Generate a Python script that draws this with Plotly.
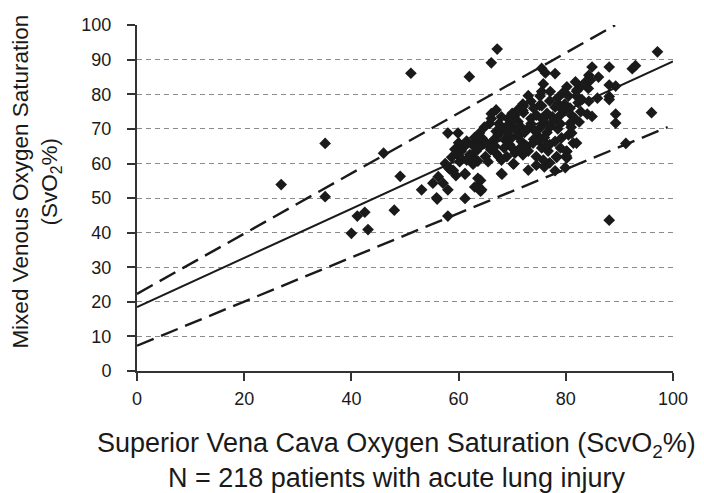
import plotly.graph_objects as go

# ScvO2 (x) and SvO2 (y) values
scvo2 = [26.9, 35.1, 35.1, 40.0, 41.1, 42.5, 43.1, 46.0, 48.0, 49.1,
         51.1, 53.1, 55.2, 56.2, 57.1, 58.0, 55.9, 56.0, 61.2, 58.0,
         61.2, 63.0, 64.1, 64.1, 58.1, 58.4, 59.0, 58.0, 59.9, 63.9,
         67.0, 62.0, 66.1, 67.2, 88.1, 91.2, 96.0, 97.1, 92.4, 93.0,
         88.1, 84.9, 75.5, 78.0, 76.2, 84.3, 86.1, 84.0, 84.6, 84.2,
         88.1, 89.3, 85.9, 88.1, 88.1, 84.3, 84.0, 84.9, 89.3, 89.3,
         75.8, 77.1, 75.5, 73.0, 75.1, 80.2, 81.8, 82.1, 72.1, 72.1,
         82.0, 82.0, 82.3, 77.0, 78.6, 78.0, 79.2, 79.8, 75.5, 75.2,
         72.0, 72.0, 81.1, 81.7, 80.8, 79.9, 78.9, 66.1, 66.1, 65.8,
         69.2, 70.5, 71.1, 69.2, 64.4, 63.8, 70.3, 70.3, 73.0, 76.0,
         78.3, 80.2, 80.2, 78.0, 79.9, 68.1, 67.5, 58.7, 59.3, 60.5,
         62.1, 63.0, 64.0, 65.2, 63.6, 62.7, 63.3, 58.4, 59.0, 61.2,
         63.6, 63.6, 64.3, 68.0, 70.2, 74.5, 77.0, 60.0, 61.0, 61.5,
         62.5, 60.2, 59.8, 65.0, 66.0, 65.5, 66.5, 67.4, 68.6, 69.9,
         71.1, 71.7, 72.7, 73.0, 73.9, 75.5, 76.7, 78.0, 79.2, 80.5,
         80.1, 80.1, 81.4, 82.0, 81.1, 78.3, 68.0, 69.0, 70.0, 70.8,
         71.5, 72.3, 73.0, 73.5, 74.2, 74.8, 75.3, 76.0, 76.5, 77.2,
         77.8, 78.5, 79.0, 68.5, 69.5, 70.5, 71.5, 72.0, 74.0, 75.0,
         76.0, 77.0, 73.5, 74.5, 76.5, 77.5, 75.5, 70.0, 67.5, 66.8,
         67.0, 68.0, 69.0, 74.5, 75.8, 76.5, 79.0, 81.0, 82.5, 82.8,
         83.0, 83.0, 80.5, 79.5, 78.5, 80.8, 74.0, 73.5, 71.0, 70.0,
         68.0, 67.0, 64.8, 63.0, 61.5, 57.5, 59.5, 60.5]
svo2 = [53.9, 65.8, 50.4, 39.8, 44.8, 45.9, 40.9, 63.0, 46.5, 56.3,
        86.1, 52.4, 54.3, 56.2, 54.3, 52.4, 50.1, 49.7, 49.9, 44.8,
        56.9, 53.2, 55.1, 52.0, 58.8, 58.3, 57.9, 68.8, 68.8, 68.8,
        69.3, 85.1, 89.1, 93.1, 43.6, 65.8, 74.7, 92.3, 87.4, 88.3,
        87.9, 87.9, 87.5, 86.0, 86.2, 85.5, 85.0, 84.1, 84.1, 81.7,
        82.7, 82.4, 78.9, 79.4, 78.5, 78.0, 74.3, 73.6, 74.3, 71.7,
        83.0, 80.8, 80.8, 79.6, 76.8, 82.2, 83.6, 81.3, 76.6, 74.7,
        80.9, 79.5, 77.6, 78.1, 77.2, 76.3, 75.8, 77.2, 76.7, 79.5,
        77.2, 75.3, 73.9, 73.0, 71.6, 75.3, 73.9, 74.4, 73.0, 71.6,
        73.0, 73.9, 72.1, 71.1, 67.3, 66.4, 64.0, 59.9, 58.1, 59.0,
        61.8, 63.5, 61.6, 57.9, 58.8, 56.9, 62.0, 61.8, 64.1, 63.6,
        62.6, 61.2, 64.9, 65.8, 60.7, 59.8, 63.6, 58.5, 58.0, 57.1,
        55.7, 53.4, 52.4, 57.1, 59.9, 59.5, 60.2, 66.0, 64.8, 61.0,
        65.5, 60.5, 62.5, 62.0, 64.0, 60.5, 66.8, 68.3, 66.9, 67.4,
        67.9, 66.4, 65.0, 63.6, 65.9, 64.5, 63.6, 66.4, 67.4, 68.3,
        63.6, 62.2, 65.9, 65.9, 68.8, 62.0, 70.0, 69.0, 70.5, 69.5,
        70.8, 69.0, 70.2, 71.5, 69.5, 68.0, 70.5, 72.0, 69.0, 70.8,
        72.5, 70.0, 71.5, 64.5, 65.5, 63.0, 64.5, 62.5, 67.0, 66.5,
        67.5, 65.5, 73.0, 74.0, 74.5, 73.5, 73.0, 72.5, 71.5, 65.0,
        63.0, 61.0, 62.0, 62.0, 61.0, 65.5, 64.5, 70.5, 72.0, 75.0,
        78.5, 82.5, 79.5, 80.5, 79.0, 76.0, 76.0, 78.0, 75.5, 74.5,
        73.5, 75.5, 70.5, 67.5, 66.5, 60.0, 56.5, 61.5]

# regression line and prediction bounds (end points)
fit_x = [0, 100]
fit_y = [18.5, 89.5]
upper_x = [0, 89.2]
upper_y = [22.3, 100]
lower_x = [0, 99]
lower_y = [7.3, 70.5]

x_ticks = [0, 20, 40, 60, 80, 100]
y_ticks = [0, 10, 20, 30, 40, 50, 60, 70, 80, 90, 100]

FONT = "Liberation Sans, Arial, sans-serif"
INK = "#1a1a1a"

fig = go.Figure()
fig.add_trace(go.Scatter(x=upper_x, y=upper_y, mode="lines",
                         line=dict(color=INK, width=2.4, dash="18px,8px"),
                         hoverinfo="skip"))
fig.add_trace(go.Scatter(x=lower_x, y=lower_y, mode="lines",
                         line=dict(color=INK, width=2.4, dash="18px,8px"),
                         hoverinfo="skip"))
fig.add_trace(go.Scatter(x=fit_x, y=fit_y, mode="lines",
                         line=dict(color=INK, width=2), hoverinfo="skip"))
fig.add_trace(go.Scatter(x=scvo2, y=svo2, mode="markers",
                         marker=dict(symbol="diamond", size=9, color=INK,
                                     line=dict(width=0))))

fig.update_layout(
    width=704, height=493,
    margin=dict(l=129, r=39, t=7, b=130),
    paper_bgcolor="white", plot_bgcolor="white",
    showlegend=False,
    font=dict(family=FONT, color=INK, size=18),
)
fig.update_xaxes(
    range=[0, 100], tickvals=x_ticks, showgrid=False, zeroline=False,
    showline=True, linecolor="#333333", linewidth=2,
    ticks="outside", ticklen=8, tickwidth=1.5, tickcolor="#333333",
    tickfont=dict(size=18, family=FONT, color=INK), ticklabelstandoff=2,
    ticklabeloverflow="allow",
)
fig.update_yaxes(
    range=[0, 100.05], tickvals=y_ticks, zeroline=False,
    showgrid=True, gridcolor="#8c8c8c", gridwidth=1, griddash="5px,4px",
    showline=True, linecolor="#333333", linewidth=2,
    ticks="outside", ticklen=8, tickwidth=1.5, tickcolor="#333333",
    tickfont=dict(size=18, family=FONT, color=INK), ticklabelstandoff=12,
    ticklabeloverflow="allow",
)

fig.add_annotation(
    text="Mixed Venous Oxygen Saturation<br>(SvO<sub>2</sub>%)",
    xref="paper", yref="paper", x=-0.188, y=0.548,
    xanchor="center", yanchor="middle", textangle=-90, showarrow=False,
    font=dict(size=22.5, family=FONT, color=INK),
)
fig.add_annotation(
    text="Superior Vena Cava Oxygen Saturation (ScvO<sub>2</sub>%)<br>N = 218 patients with acute lung injury",
    xref="paper", yref="paper", x=0.485, y=-0.258,
    xanchor="center", yanchor="middle", showarrow=False,
    font=dict(size=27, family=FONT, color=INK),
)

fig.write_html("out.html")
